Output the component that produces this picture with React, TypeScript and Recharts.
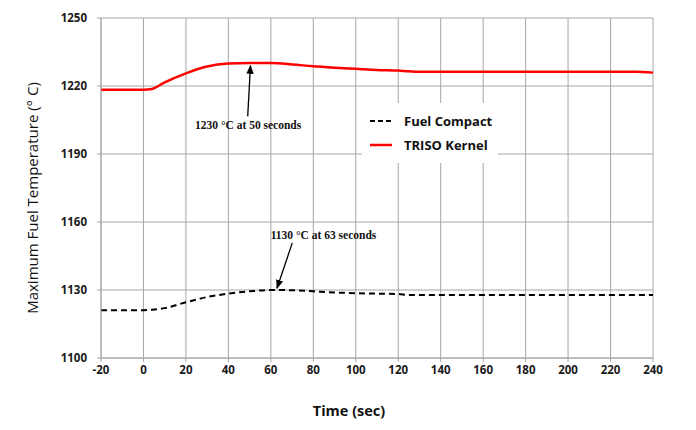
import { LineChart, Line, XAxis, YAxis, CartesianGrid, Legend, ReferenceLine, Label } from "recharts";

const times = [-20, -10, 0, 4, 10, 20, 30, 40, 50, 60, 70, 80, 90, 100, 110, 120, 125, 130, 140, 160, 180, 200, 220, 232, 240];
const fuelCompact = [1121.1, 1121.1, 1121.1, 1121.3, 1122.0, 1124.6, 1126.9, 1128.4, 1129.4, 1130.0, 1129.9, 1129.4, 1128.9, 1128.6, 1128.4, 1128.2, 1127.8, 1127.8, 1127.8, 1127.8, 1127.8, 1127.8, 1127.8, 1127.8, 1127.8];
const trisoKernel = [1218.4, 1218.4, 1218.4, 1218.7, 1221.6, 1225.6, 1228.6, 1229.9, 1230.2, 1230.1, 1229.5, 1228.7, 1228.1, 1227.6, 1227.1, 1226.8, 1226.5, 1226.3, 1226.3, 1226.3, 1226.3, 1226.3, 1226.3, 1226.3, 1225.9];

const xTicks = [-20, 0, 20, 40, 60, 80, 100, 120, 140, 160, 180, 200, 220, 240];
const yTicks = [1100, 1130, 1160, 1190, 1220, 1250];

// arrow tail -> tip, and where its caption sits (data units)
const notes = [
  { text: "1230 °C at 50 seconds", tail: [49.1, 1206.6], tip: [50.4, 1229], at: [49.3, 1201] },
  { text: "1130 °C at 63 seconds", tail: [70.1, 1150.8], tip: [62.9, 1130.8], at: [84.8, 1152.3] },
];

const data = times.map((t, i) => ({ t, fuel: fuelCompact[i], triso: trisoKernel[i] }));

const grid = "#a6a6a6";
const sans = "'Open Sans', sans-serif";

function ArrowNote({ x1, y1, x2, y2, text, dx, dy }: any) {
  return (
    <g>
      <line x1={x1} y1={y1} x2={x2} y2={y2} stroke="#000" strokeWidth={1.3} markerEnd="url(#arrowHead)" />
      <text
        x={x1 + dx}
        y={y1 + dy}
        textAnchor="middle"
        fontFamily="'Liberation Serif', serif"
        fontWeight="bold"
        fontSize={11.5}
        fill="#111"
      >
        {text}
      </text>
    </g>
  );
}

function YTitle({ viewBox }: any) {
  const cx = 32;
  const cy = viewBox.y + viewBox.height / 2 + 10;
  return (
    <text x={cx} y={cy} transform={`rotate(-90 ${cx} ${cy})`} textAnchor="middle" dominantBaseline="central" fill="#111" fontSize={15} fontFamily={sans}>
      Maximum Fuel Temperature (° C)
    </text>
  );
}

function LegendBox() {
  return (
    <div style={{ background: "#fff", padding: "6px 6px", fontFamily: sans, fontWeight: "bold", fontSize: 13, color: "#111" }}>
      <div style={{ display: "flex", alignItems: "center", height: 24 }}>
        <svg width={28} height={6}><line x1={2} y1={3} x2={24} y2={3} stroke="#000" strokeWidth={2} strokeDasharray="5 3" /></svg>
        <span style={{ marginLeft: 8 }}>Fuel Compact</span>
      </div>
      <div style={{ display: "flex", alignItems: "center", height: 24 }}>
        <svg width={28} height={6}><line x1={2} y1={3} x2={24} y2={3} stroke="#ff0000" strokeWidth={2.5} /></svg>
        <span style={{ marginLeft: 8 }}>TRISO Kernel</span>
      </div>
    </div>
  );
}

export default function App() {
  return (
    <div style={{ margin: -8, width: 696, height: 430, background: "#fff" }}>
      <LineChart width={696} height={430} data={data} margin={{ top: 18, right: 43, bottom: 42, left: 41 }}>
        <defs>
          <marker id="arrowHead" viewBox="0 0 10 10" refX="9" refY="5" markerWidth="7" markerHeight="7" orient="auto-start-reverse">
            <path d="M0,1 L10,5 L0,9 z" fill="#000" />
          </marker>
        </defs>
        <CartesianGrid stroke={grid} strokeWidth={1} />
        <XAxis
          dataKey="t"
          type="number"
          domain={[-20, 240]}
          ticks={xTicks}
          height={30}
          tickSize={4}
          tickMargin={4}
          stroke={grid}
          tick={{ fill: "#1a1a1a", fontSize: 11.5, fontWeight: "bold", fontFamily: sans }}
        >
          <Label value="Time (sec)" position="bottom" offset={18} dx={-28} style={{ fill: "#111", fontSize: 14.5, fontWeight: "bold", fontFamily: sans }} />
        </XAxis>
        <YAxis
          type="number"
          domain={[1100, 1250]}
          ticks={yTicks}
          width={60}
          tickSize={4}
          tickMargin={10}
          stroke={grid}
          tick={{ fill: "#1a1a1a", fontSize: 11.5, fontWeight: "bold", fontFamily: sans }}
        >
          <Label content={<YTitle />} />
        </YAxis>
        <Line dataKey="fuel" name="Fuel Compact" type="monotone" stroke="#000" strokeWidth={2} strokeDasharray="6 4" dot={false} isAnimationActive={false} />
        <Line dataKey="triso" name="TRISO Kernel" type="monotone" stroke="#ff0000" strokeWidth={2.5} dot={false} isAnimationActive={false} />
        {notes.map((n) => (
          <ReferenceLine
            key={n.text}
            segment={[{ x: n.tail[0], y: n.tail[1] }, { x: n.tip[0], y: n.tip[1] }]}
            ifOverflow="visible"
            shape={(p: any) => {
              const pxPerX = (p.x2 - p.x1) / (n.tip[0] - n.tail[0]);
              const pxPerY = (p.y2 - p.y1) / (n.tip[1] - n.tail[1]);
              return (
                <ArrowNote
                  x1={p.x1}
                  y1={p.y1}
                  x2={p.x2}
                  y2={p.y2}
                  text={n.text}
                  dx={(n.at[0] - n.tail[0]) * pxPerX}
                  dy={(n.at[1] - n.tail[1]) * pxPerY}
                />
              );
            }}
          />
        ))}
        <Legend
          layout="vertical"
          verticalAlign="middle"
          align="center"
          wrapperStyle={{ left: 362, top: 103, width: "auto" }}
          content={() => <LegendBox />}
        />
      </LineChart>
    </div>
  );
}
